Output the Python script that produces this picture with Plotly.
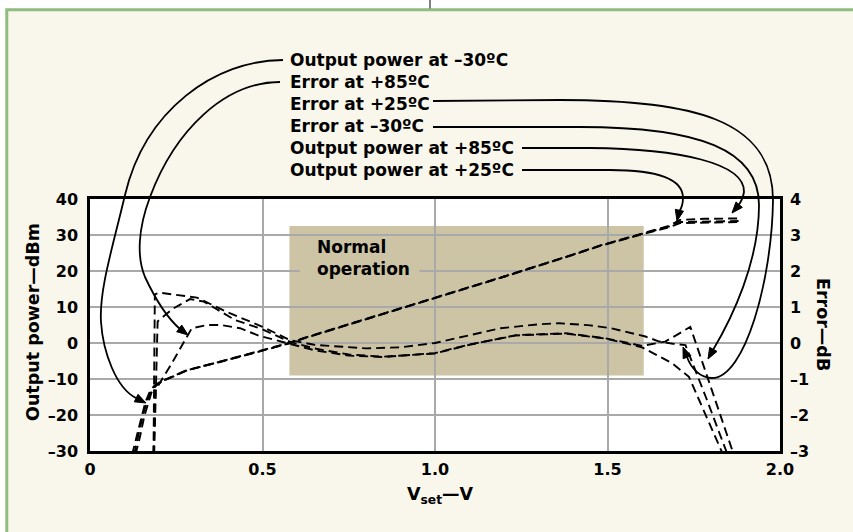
import plotly.graph_objects as go

# ---------------- data ----------------
vset_ticks = [0, 0.5, 1.0, 1.5, 2.0]
vset_tick_text = ["0", "0.5", "1.0", "1.5", "2.0"]
power_ticks = [-30, -20, -10, 0, 10, 20, 30, 40]
power_tick_text = ["–30", "–20", "–10", "0", "10", "20", "30", "40"]
error_ticks = [-3, -2, -1, 0, 1, 2, 3, 4]
error_tick_text = ["–3", "–2", "–1", "0", "1", "2", "3", "4"]

# Output power (dBm) vs Vset (V)
pw_m30_x = [0.122, 0.135, 0.148, 0.160, 0.172, 0.185, 0.200, 0.215, 0.280, 0.380, 0.490, 0.580, 0.620, 0.800, 1.000, 1.200, 1.400, 1.480, 1.600, 1.680, 1.710, 1.780, 1.880]
pw_m30_y = [-31.0, -26.0, -20.5, -16.6, -13.8, -12.0, -11.0, -10.3, -7.6, -5.2, -2.4, 0.0, 1.3, 6.6, 12.4, 18.4, 24.5, 27.0, 30.2, 32.2, 33.3, 33.5, 33.6]
pw_25_x = [0.132, 0.145, 0.157, 0.168, 0.178, 0.190, 0.203, 0.218, 0.282, 0.380, 0.490, 0.580, 0.620, 0.800, 1.000, 1.200, 1.400, 1.480, 1.600, 1.680, 1.710, 1.780, 1.880]
pw_25_y = [-31.0, -26.0, -20.5, -16.6, -13.8, -12.0, -11.0, -10.3, -7.6, -5.1, -2.3, 0.1, 1.4, 6.7, 12.5, 18.5, 24.6, 27.1, 30.3, 32.4, 33.6, 33.8, 33.9]
pw_85_x = [0.128, 0.140, 0.152, 0.164, 0.175, 0.188, 0.202, 0.217, 0.281, 0.380, 0.490, 0.580, 0.620, 0.800, 1.000, 1.200, 1.400, 1.480, 1.600, 1.680, 1.710, 1.780, 1.880]
pw_85_y = [-31.0, -26.0, -20.5, -16.6, -13.8, -12.0, -11.0, -10.3, -7.5, -5.2, -2.4, 0.0, 1.3, 6.6, 12.4, 18.4, 24.5, 27.1, 30.4, 32.6, 34.2, 34.5, 34.6]

# Error (dB) vs Vset (V)
err_25_x = [0.184, 0.188, 0.200, 0.250, 0.310, 0.400, 0.500, 0.580, 0.650, 0.800, 0.900, 1.000, 1.100, 1.190, 1.300, 1.360, 1.450, 1.510, 1.610, 1.650, 1.690, 1.726, 1.785, 1.848]
err_25_y = [-3.1, 1.35, 1.40, 1.33, 1.26, 0.85, 0.45, 0.08, -0.05, -0.15, -0.12, 0.00, 0.22, 0.41, 0.52, 0.55, 0.49, 0.41, 0.18, 0.04, -0.02, -0.06, -1.50, -3.10]
err_m30_x = [0.186, 0.196, 0.240, 0.290, 0.330, 0.420, 0.500, 0.580, 0.650, 0.750, 0.850, 1.000, 1.100, 1.235, 1.380, 1.495, 1.600, 1.667, 1.700, 1.740, 1.800, 1.866]
err_m30_y = [-3.1, 0.60, 0.95, 1.22, 1.15, 0.64, 0.38, 0.03, -0.15, -0.32, -0.38, -0.29, -0.05, 0.22, 0.27, 0.13, -0.08, 0.04, 0.22, 0.45, -1.24, -3.10]
err_85_x = [0.184, 0.190, 0.235, 0.280, 0.295, 0.340, 0.380, 0.435, 0.490, 0.570, 0.650, 0.750, 0.850, 1.000, 1.100, 1.235, 1.380, 1.495, 1.600, 1.687, 1.736, 1.835]
err_85_y = [-3.1, -1.30, -0.60, 0.18, 0.41, 0.50, 0.50, 0.41, 0.20, 0.00, -0.20, -0.35, -0.39, -0.28, -0.04, 0.21, 0.26, 0.12, -0.12, -0.56, -0.94, -3.10]

# Normal-operation region (Vset, dBm)
normal_x = [0.578, 1.605]
normal_y = [-9.0, 32.5]

labels = ["Output power at –30ºC", "Error at +85ºC", "Error at +25ºC",
          "Error at –30ºC", "Output power at +85ºC", "Output power at +25ºC"]

# ---------------- styling ----------------
FONT = "DejaVu Sans"
W, H = 853, 532
L, R, T, B = 90, 780, 199, 451
CREAM = "#f9f7ec"
GREEN = "#8fbd7f"
TAN = "#ccc4a4"
GRID = "#a9a9a9"
DASH = "9px,5px"


def pp(px, py):
    return (px - L) / (R - L), (B - py) / (B - T)


def path(cmds):
    out = []
    for c in cmds:
        op, pts = c[0], c[1:]
        coords = " ".join("%.5f,%.5f" % pp(*p) for p in pts)
        out.append(op + " " + coords)
    return " ".join(out)


def head(tip, d, length=11, half=4.2):
    import math
    n = math.hypot(*d)
    ux, uy = d[0] / n, d[1] / n
    bx, by = tip[0] - ux * length, tip[1] - uy * length
    p1 = (bx - uy * half, by + ux * half)
    p2 = (bx + uy * half, by - ux * half)
    return path([("M", tip), ("L", p1), ("L", p2)]) + " Z"


fig = go.Figure()

line_style = dict(color="black", width=1.9, dash=DASH)
for xs, ys in [(pw_m30_x, pw_m30_y), (pw_25_x, pw_25_y), (pw_85_x, pw_85_y)]:
    fig.add_trace(go.Scatter(x=xs, y=ys, mode="lines", line=line_style,
                             yaxis="y", showlegend=False, hoverinfo="skip"))
for xs, ys in [(err_25_x, err_25_y), (err_m30_x, err_m30_y), (err_85_x, err_85_y)]:
    fig.add_trace(go.Scatter(x=xs, y=ys, mode="lines", line=line_style,
                             yaxis="y2", showlegend=False, hoverinfo="skip"))

shapes = []
# normal operation region (below grid)
shapes.append(dict(type="rect", xref="x", yref="y", x0=normal_x[0], x1=normal_x[1],
                   y0=normal_y[0], y1=normal_y[1], fillcolor=TAN, line=dict(width=0),
                   layer="below"))
# hide the grid line behind the "Normal operation" text
shapes.append(dict(type="rect", xref="x", yref="y", x0=0.608, x1=0.955,
                   y0=19.2, y1=20.8, fillcolor=TAN, line=dict(width=0), layer="between"))

# frame of the figure: white margins, green border, small mark
shapes.append(dict(type="rect", xref="paper", yref="paper", x0=pp(0, 0)[0], x1=pp(W, 0)[0],
                   y0=pp(0, 0)[1], y1=pp(0, 8.5)[1], fillcolor="white", line=dict(width=0)))
shapes.append(dict(type="rect", xref="paper", yref="paper", x0=pp(0, 0)[0], x1=pp(5.5, 0)[0],
                   y0=pp(0, 0)[1], y1=pp(0, H)[1], fillcolor="white", line=dict(width=0)))
shapes.append(dict(type="path", xref="paper", yref="paper",
                   path=path([("M", (6.8, H)), ("L", (6.8, 9.8)), ("L", (W, 9.8))]),
                   line=dict(color=GREEN, width=3)))
shapes.append(dict(type="line", xref="paper", yref="paper", x0=pp(430, 0)[0], x1=pp(430, 0)[0],
                   y0=pp(0, 0)[1], y1=pp(0, 8.5)[1], line=dict(color="black", width=1)))

# curved leader arrows (pixel geometry converted to paper coordinates)
arrow_line = dict(color="black", width=1.8)
leaders = [
    ([("M", (283, 60)), ("C", (215, 60), (145, 110), (125, 195)),
      ("C", (113, 246), (99, 290), (101, 322)),
      ("C", (103, 352), (116, 388), (136, 398))], (146, 403), (10, 5)),
    ([("M", (280, 82)), ("C", (225, 82), (175, 130), (150, 197)),
      ("C", (137.5, 230), (137, 258), (145, 277)),
      ("C", (152, 292), (165, 316), (180, 329))], (188, 335), (8, 6)),
    ([("M", (433, 101)), ("L", (560, 100)), ("C", (690, 100), (773, 118), (773, 200)),
      ("C", (772, 280), (745, 378), (712, 378)),
      ("C", (700, 378), (691, 368), (687, 357))], (683, 347), (-4, -10)),
    ([("M", (433, 127)), ("L", (580, 127)), ("C", (700, 127), (759, 150), (759, 205)),
      ("C", (759, 262), (732, 318), (713, 350))], (708, 359), (-5, 9)),
    ([("M", (522, 148)), ("L", (590, 148)), ("C", (680, 149), (745, 163), (744, 192)),
      ("C", (743, 198), (741, 202), (738, 206))], (732, 213), (-6, 7)),
    ([("M", (522, 170)), ("L", (610, 170)), ("C", (660, 170), (683, 180), (683, 198)),
      ("C", (683, 204), (681, 209), (679, 212))], (677, 221), (-2, 9)),
]
for cmds, tip, d in leaders:
    shapes.append(dict(type="path", xref="paper", yref="paper", path=path(cmds),
                       line=arrow_line))
    shapes.append(dict(type="path", xref="paper", yref="paper", path=head(tip, d),
                       fillcolor="black", line=dict(color="black", width=1)))

annotations = []
label_y = [59.5, 81.6, 103.7, 125.8, 147.9, 170.0]
for txt, py in zip(labels, label_y):
    x, y = pp(288, py)
    annotations.append(dict(text=txt, xref="paper", yref="paper", x=x, y=y,
                            xanchor="left", yanchor="middle", showarrow=False,
                            font=dict(family=FONT, size=17, color="black", weight="bold")))

annotations.append(dict(text="Normal<br>operation", xref="x", yref="y", x=0.652, y=23.6,
                        xanchor="left", yanchor="middle", align="left", showarrow=False,
                        font=dict(family=FONT, size=17, color="black", weight="bold")))

x, y = pp(33, 322)
annotations.append(dict(text="Output power—dBm", xref="paper", yref="paper", x=x, y=y,
                        textangle=-90, showarrow=False, xanchor="center", yanchor="middle",
                        font=dict(family=FONT, size=17.5, color="black", weight="bold")))
x, y = pp(823, 324)
annotations.append(dict(text="Error—dB", xref="paper", yref="paper", x=x, y=y,
                        textangle=90, showarrow=False, xanchor="center", yanchor="middle",
                        font=dict(family=FONT, size=17.5, color="black", weight="bold")))
x, y = pp(440, 495)
annotations.append(dict(text="V<sub>set</sub>—V", xref="paper", yref="paper", x=x, y=y,
                        showarrow=False, xanchor="center", yanchor="middle",
                        font=dict(family=FONT, size=17.5, color="black", weight="bold")))

tickfont = dict(family=FONT, size=16, color="black", weight="bold")
fig.update_layout(
    width=W, height=H,
    margin=dict(l=L, r=W - R, t=T, b=H - B, pad=0),
    paper_bgcolor=CREAM, plot_bgcolor="white",
    showlegend=False,
    font=dict(family=FONT, color="black"),
    xaxis=dict(range=[0, 2], tickvals=vset_ticks, ticktext=vset_tick_text,
               showgrid=True, gridcolor=GRID, gridwidth=1.5, zeroline=False,
               showline=True, linecolor="black", linewidth=2.5, mirror=True,
               ticks="", tickfont=tickfont, ticklabelstandoff=2),
    yaxis=dict(range=[-30, 40], tickvals=power_ticks, ticktext=power_tick_text,
               showgrid=True, gridcolor=GRID, gridwidth=1.5, zeroline=False,
               showline=True, linecolor="black", linewidth=2.5, mirror=True,
               ticks="", tickfont=tickfont, ticklabelstandoff=6),
    yaxis2=dict(range=[-3, 4], tickvals=error_ticks, ticktext=error_tick_text,
                overlaying="y", side="right",
                showgrid=False, zeroline=False, showline=False,
                ticks="", tickfont=tickfont, ticklabelstandoff=9),
    shapes=shapes,
    annotations=annotations,
)

fig.write_html("out.html", config={"displayModeBar": False},
               post_script="document.body.style.margin='0px';")
